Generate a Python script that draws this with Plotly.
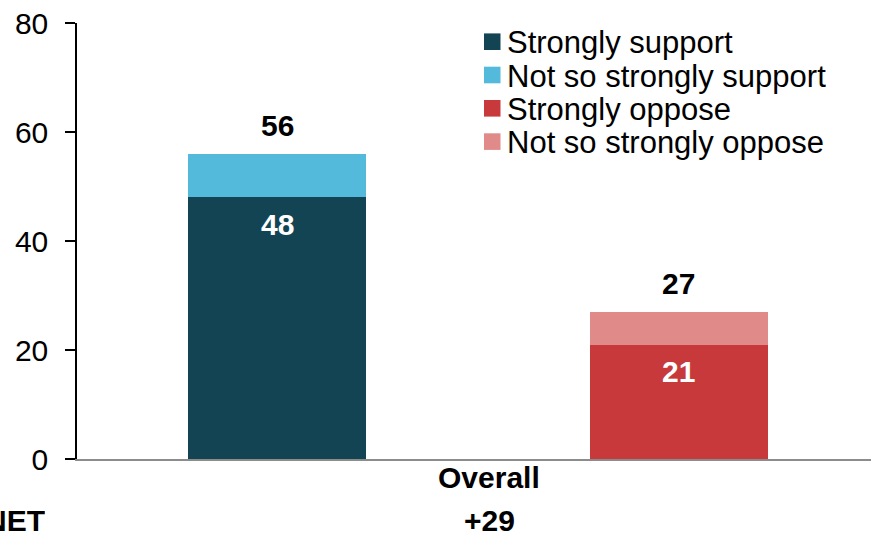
import plotly.graph_objects as go

categories = ["Support", "Oppose"]
series_names = ["Strongly support", "Not so strongly support",
                "Strongly oppose", "Not so strongly oppose"]
strongly_support = [48, None]
not_so_support = [8, None]
strongly_oppose = [None, 21]
not_so_oppose = [None, 6]
totals = [56, 27]
y_ticks = [0, 20, 40, 60, 80]
group_label = "Overall"
net_title = "NET"
net_label = "+29"

colors = ["#134453", "#53BADC", "#C8393B", "#E08A89"]

FONT = "Liberation Sans, Arial, sans-serif"
W, H = 871, 535
L, R, T, B = 77, 0, 23, 76
PW, PH = W - L - R, H - T - B


def px_x(px):
    return (px - L) / PW


def px_y(py):
    return 1 - (py - T) / PH


fig = go.Figure()
series_vals = [strongly_support, not_so_support, strongly_oppose, not_so_oppose]
labelled = [True, False, True, False]
for name, vals, col, lab in zip(series_names, series_vals, colors, labelled):
    fig.add_trace(go.Bar(
        x=categories, y=vals, name=name, marker_color=col,
        marker_line_width=0, width=0.443, showlegend=False,
        hoverinfo="skip",
    ))
    if lab:
        for cat, v in zip(categories, vals):
            if v is not None:
                fig.add_annotation(x=cat, y=v, xref="x", yref="y", text=str(v),
                                   showarrow=False, yanchor="middle", yshift=-27,
                                   font=dict(family=FONT, size=30, color="white",
                                             weight="bold"))

for cat, t in zip(categories, totals):
    fig.add_annotation(x=cat, y=t, xref="x", yref="y", text=str(t),
                       showarrow=False, yanchor="middle", yshift=28,
                       font=dict(family=FONT, size=30, color="black", weight="bold"))

# manual legend
for i, (name, col) in enumerate(zip(series_names, colors)):
    cy = 41.7 + i * 33.3
    fig.add_shape(type="rect", xref="paper", yref="paper",
                  x0=px_x(484), x1=px_x(500.5), y0=px_y(cy - 8.3), y1=px_y(cy + 8.3),
                  fillcolor=col, line_width=0)
    fig.add_annotation(text=name, xref="paper", yref="paper", x=px_x(505),
                       y=px_y(cy + 1), xanchor="left", yanchor="middle", showarrow=False,
                       font=dict(family=FONT, size=31, color="black"))

fig.update_layout(
    width=W, height=H,
    margin=dict(l=L, r=R, t=T, b=B),
    barmode="stack",
    plot_bgcolor="white", paper_bgcolor="white",
    font=dict(family=FONT, size=30, color="black"),
    showlegend=False,
    xaxis=dict(range=[-0.498, 1.479], showticklabels=False, showline=True,
               linecolor="#8C8C8C", linewidth=1.5, ticks="", showgrid=False,
               zeroline=False, fixedrange=True),
    yaxis=dict(range=[0, 80], tickvals=y_ticks, showline=True,
               linecolor="black", linewidth=1.5, ticks="outside", ticklen=10,
               tickcolor="black", tickwidth=1.5, showgrid=False, zeroline=False,
               ticklabelstandoff=11, tickfont=dict(size=30), fixedrange=True),
)

fig.add_annotation(text=group_label, xref="paper", yref="paper", x=px_x(489), y=px_y(477),
                   xanchor="center", yanchor="middle", showarrow=False,
                   font=dict(family=FONT, size=30, color="black", weight="bold"))
fig.add_annotation(text=net_label, xref="paper", yref="paper", x=px_x(489), y=px_y(520),
                   xanchor="center", yanchor="middle", showarrow=False,
                   height=28, borderpad=0,
                   font=dict(family=FONT, size=30, color="black", weight="bold"))
fig.add_annotation(text=net_title, xref="paper", yref="paper", x=px_x(46), y=px_y(520),
                   xanchor="right", yanchor="middle", showarrow=False,
                   height=28, borderpad=0,
                   font=dict(family=FONT, size=30, color="black", weight="bold"))

fig.write_html("out.html", config={"displayModeBar": False},
               post_script="document.body.style.margin='0';")
